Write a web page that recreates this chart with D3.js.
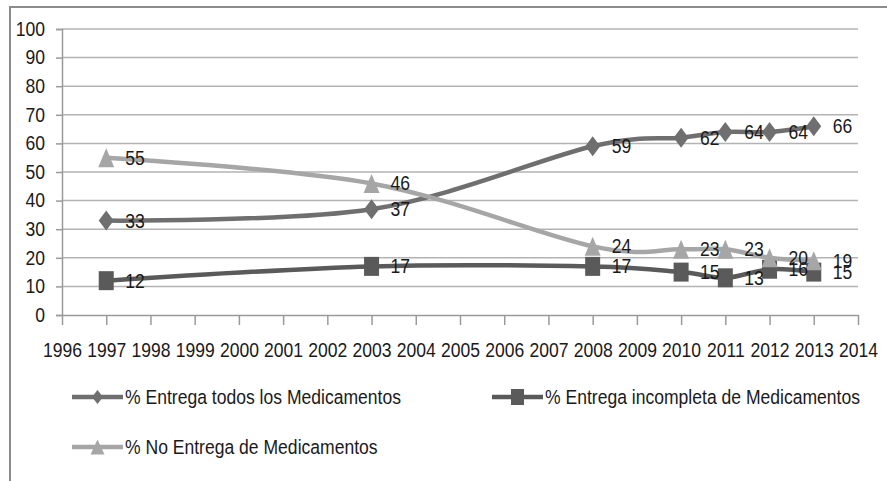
<!DOCTYPE html>
<html>
<head>
<meta charset="utf-8">
<script src="https://cdn.jsdelivr.net/npm/d3@7"></script>
<style>
  html, body { margin: 0; padding: 0; background: #fff; }
  svg text { font-family: "Liberation Sans", Arial, sans-serif; fill: #1a1a1a; }
</style>
</head>
<body>
<svg id="chart" width="887" height="481"></svg>
<script>
// Survey years with observations
const years = [1997, 2003, 2008, 2010, 2011, 2012, 2013];
// Percentage of prescriptions by delivery outcome
const entregaTodos = [33, 37, 59, 62, 64, 64, 66];
const entregaIncompleta = [12, 17, 17, 15, 13, 16, 15];
const noEntrega = [55, 46, 24, 23, 23, 20, 19];
// Axis ticks
const xTicks = d3.range(1996, 2015);
const yTicks = d3.range(0, 101, 10);
const seriesNames = [
  "% Entrega todos los Medicamentos",
  "% Entrega incompleta de Medicamentos",
  "% No Entrega de Medicamentos"
];

const series = [
  { name: seriesNames[0], values: entregaTodos, color: "#6f6f6f", symbol: "diamond" },
  { name: seriesNames[1], values: entregaIncompleta, color: "#5a5a5a", symbol: "square" },
  { name: seriesNames[2], values: noEntrega, color: "#a6a6a6", symbol: "triangle" }
];

const FONT = 19.5;     // text size
const SQUEEZE = 0.9;   // horizontal compression for a narrow look

// Compress text horizontally while keeping its anchor point in place
function condense(sel) {
  sel.each(function () {
    const t = d3.select(this);
    const x0 = +t.attr("x") || 0;
    t.attr("x", x0 / SQUEEZE).attr("transform", `scale(${SQUEEZE},1)`);
  });
}

const svg = d3.select("#chart");

// Outer chart frame (top and left edges visible)
svg.append("path")
  .attr("d", "M10,481 L10,7 L887,7")
  .attr("fill", "none")
  .attr("stroke", "#8c8c8c")
  .attr("stroke-width", 2);

const x = d3.scaleLinear().domain([1996, 2014]).range([62, 858]);
const y = d3.scaleLinear().domain([0, 100]).range([315, 29]);

// Horizontal gridlines
svg.append("g")
  .selectAll("line")
  .data(yTicks.filter(d => d > 0))
  .join("line")
  .attr("x1", x(1996)).attr("x2", x(2014))
  .attr("y1", d => y(d)).attr("y2", d => y(d))
  .attr("stroke", "#b3b3b3")
  .attr("stroke-width", 1.5);

// Y axis
const yAxis = svg.append("g")
  .attr("transform", `translate(${x(1996)},0)`)
  .call(d3.axisLeft(y).tickValues(yTicks).tickSize(6).tickPadding(11));
yAxis.select(".domain").attr("stroke", "#9a9a9a").attr("stroke-width", 1.5);
yAxis.selectAll(".tick line").attr("stroke", "#9a9a9a").attr("stroke-width", 1.5);
yAxis.selectAll(".tick text").attr("font-size", FONT).attr("fill", "#1a1a1a").call(condense);

// X axis
const xAxis = svg.append("g")
  .attr("transform", `translate(0,${y(0)})`)
  .call(d3.axisBottom(x).tickValues(xTicks).tickFormat(d3.format("d")).tickSizeInner(10).tickSizeOuter(0).tickPadding(18));
xAxis.select(".domain").attr("stroke", "#9a9a9a").attr("stroke-width", 1.5);
xAxis.selectAll(".tick line").attr("stroke", "#9a9a9a").attr("stroke-width", 1.5);
xAxis.selectAll(".tick text").attr("font-size", FONT).attr("fill", "#1a1a1a").attr("dy", "0.71em").call(condense);

// Marker shapes (slightly taller than wide)
function markerPath(symbol, w, h) {
  const a = w / 2, b = h / 2;
  if (symbol === "diamond") return `M0,${-b}L${a},0L0,${b}L${-a},0Z`;
  if (symbol === "square") return `M${-a},${-b}H${a}V${b}H${-a}Z`;
  return `M0,${-b}L${a},${b}H${-a}Z`;
}
const markerSize = { diamond: [15, 20], square: [15, 19], triangle: [16, 19] };

const line = d3.line()
  .x(d => x(d.year))
  .y(d => y(d.value))
  .curve(d3.curveCardinal.tension(0));

// Draw series back-to-front so the light series sits on top
const drawOrder = [1, 0, 2];
drawOrder.forEach(i => {
  const s = series[i];
  const pts = years.map((yr, j) => ({ year: yr, value: s.values[j] }));
  const g = svg.append("g");
  g.append("path")
    .attr("d", line(pts))
    .attr("fill", "none")
    .attr("stroke", s.color)
    .attr("stroke-width", 4.5)
    .attr("stroke-linejoin", "round");
  g.selectAll("path.mk")
    .data(pts)
    .join("path")
    .attr("class", "mk")
    .attr("transform", d => `translate(${x(d.year)},${y(d.value)})`)
    .attr("d", markerPath(s.symbol, ...markerSize[s.symbol]))
    .attr("fill", s.color);
});

// Value labels to the right of each marker
series.forEach(s => {
  const pts = years.map((yr, j) => ({ year: yr, value: s.values[j] }));
  svg.append("g")
    .selectAll("g")
    .data(pts)
    .join("g")
    .attr("transform", d => `translate(${x(d.year) + 19},${y(d.value)})`)
    .append("text")
    .attr("dy", "0.36em")
    .attr("font-size", FONT)
    .text(d => d.value)
    .call(condense);
});

// Legend
const legendItems = [
  { s: series[0], lx: 72, ly: 397 },
  { s: series[1], lx: 492, ly: 397 },
  { s: series[2], lx: 72, ly: 447 }
];
const legendMarker = { diamond: [11, 14], square: [13, 16], triangle: [14, 15] };
legendItems.forEach(it => {
  const g = svg.append("g").attr("transform", `translate(${it.lx},${it.ly})`);
  g.append("line")
    .attr("x1", 0).attr("x2", 51)
    .attr("stroke", it.s.color)
    .attr("stroke-width", 4.5);
  g.append("path")
    .attr("transform", "translate(25.5,0)")
    .attr("d", markerPath(it.s.symbol, ...legendMarker[it.s.symbol]))
    .attr("fill", it.s.color);
  g.append("text")
    .attr("x", 53)
    .attr("dy", "0.36em")
    .attr("font-size", FONT)
    .text(it.s.name)
    .call(condense);
});
</script>
</body>
</html>
